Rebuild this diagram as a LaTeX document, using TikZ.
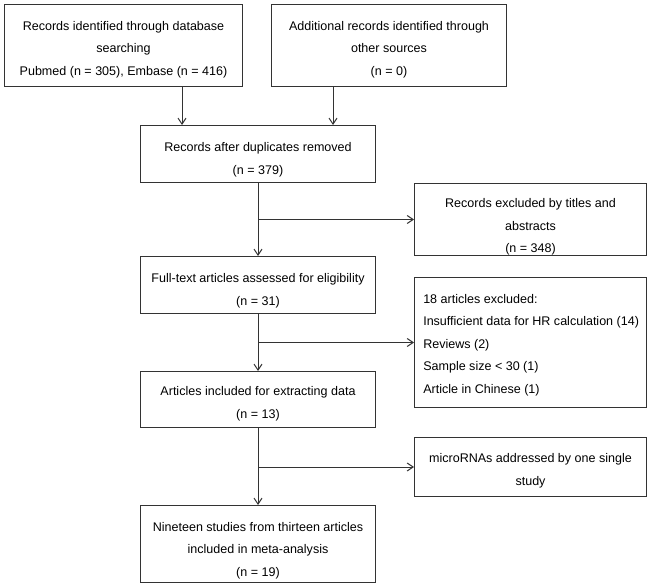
\documentclass[tikz,border=0pt]{standalone}
\usepackage{fontspec}
\setmainfont{Liberation Sans}
\usetikzlibrary{arrows.meta,calc}
\begin{document}
\begin{tikzpicture}[x=0.75pt,y=-0.75pt,
  box/.style={draw=black!80,line width=0.75pt,anchor=north west,inner sep=0pt},
  txt/.style={inner sep=0pt,align=center,font=\fontsize{9.4}{17}\selectfont},
  ltxt/.style={inner sep=0pt,anchor=west,align=left,font=\fontsize{9.4}{16.9}\selectfont},
  arr/.style={draw=black!80,line width=0.75pt,-{Straight Barb[length=4.5pt,width=6pt]}}]
\useasboundingbox (0,0) rectangle (648,584);
% boxes
\node[box,minimum width=178.5pt,minimum height=61.5pt] (b1) at (4,4) {};
\node[box,minimum width=176.25pt,minimum height=61.5pt] (b2) at (271,4) {};
\node[box,minimum width=176.25pt,minimum height=42.75pt] (b3) at (140,125) {};
\node[box,minimum width=174pt,minimum height=54pt] (b4) at (414,183) {};
\node[box,minimum width=176.25pt,minimum height=42.75pt] (b5) at (140,256) {};
\node[box,minimum width=174pt,minimum height=97.5pt] (b6) at (414,277) {};
\node[box,minimum width=176.25pt,minimum height=42pt] (b7) at (140,371) {};
\node[box,minimum width=174pt,minimum height=44.25pt] (b8) at (414,437) {};
\node[box,minimum width=176.25pt,minimum height=57.75pt] (b9) at (140,505) {};
% texts
\node[txt] (t1) at ($(b1.center)+(0,4)$) {Records identified through database\\searching\\Pubmed (n = 305), Embase (n = 416)};
\node[txt] (t2) at ($(b2.center)+(0,4)$) {Additional records identified through\\other sources\\(n = 0)};
\node[txt] (t3) at ($(b3.center)+(0,5.5)$) {Records after duplicates removed\\(n = 379)};
\node[txt] (t4) at ($(b4.center)+(0,7.5)$) {Records excluded by titles and\\abstracts\\(n = 348)};
\node[txt] (t5) at ($(b5.center)+(0,5.5)$) {Full-text articles assessed for eligibility\\(n = 31)};
\node[ltxt] (t6) at ($(b6.west)+(9,2.5)$) {18 articles excluded:\\Insufficient data for HR calculation (14)\\Reviews (2)\\Sample size < 30 (1)\\Article in Chinese (1)};
\node[txt] (t7) at ($(b7.center)+(0,4.5)$) {Articles included for extracting data\\(n = 13)};
\node[txt] (t8) at ($(b8.center)+(0,4)$) {microRNAs addressed by one single\\study};
\node[txt] (t9) at ($(b9.center)+(0,6.5)$) {Nineteen studies from thirteen articles\\included in meta-analysis\\(n = 19)};
% connectors
\coordinate (s1) at ($(b1.south west)+(178,0)$);
\coordinate (s2) at ($(b2.south west)+(62,0)$);
\draw[arr] (s1) -- (s1 |- b3.north);
\draw[arr] (s2) -- (s2 |- b3.north);
\draw[arr] (b3.south) -- (b5.north);
\draw[arr] (b3.south |- b4.west) -- (b4.west);
\draw[arr] (b5.south) -- (b7.north);
\draw[arr] (b5.south |- b6.west) -- (b6.west);
\draw[arr] (b7.south) -- (b9.north);
\draw[arr] (b7.south |- b8.west) -- (b8.west);
\end{tikzpicture}
\end{document}
